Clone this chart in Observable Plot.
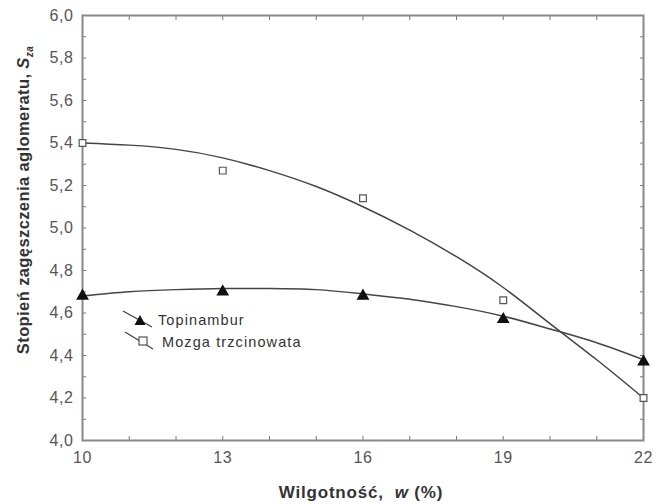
<!DOCTYPE html>
<html>
<head>
<meta charset="utf-8">
<script src="https://cdn.jsdelivr.net/npm/d3@7"></script>
<script src="https://cdn.jsdelivr.net/npm/@observablehq/plot@0.6"></script>
<style>
  html, body { margin: 0; padding: 0; background: #fff; }
  #wrap { position: relative; width: 668px; height: 504px; }
</style>
</head>
<body>
<div id="wrap"></div>
<script>
// Measured points
const wilgotnosc = [10, 13, 16, 19, 22];
const topinambur = [4.68, 4.70, 4.68, 4.57, 4.37];
const mozga = [5.40, 5.27, 5.14, 4.66, 4.20];

// Fitted curves at integer x
const curveX = [10, 11, 12, 13, 14, 15, 16, 17, 18, 19, 20, 21, 22];
const curveTopinambur = [4.68, 4.70, 4.71, 4.715, 4.715, 4.71, 4.69, 4.665, 4.63, 4.585, 4.525, 4.46, 4.38];
const curveMozga = [5.40, 5.39, 5.37, 5.33, 5.27, 5.195, 5.10, 4.99, 4.865, 4.72, 4.55, 4.38, 4.20];

const seriesNames = ["Topinambur", "Mozga trzcinowata"];
const xTickLabels = [10, 13, 16, 19, 22];
const yTickLabels = [4.0, 4.2, 4.4, 4.6, 4.8, 5.0, 5.2, 5.4, 5.6, 5.8, 6.0];
const xMinor = [10, 11, 12, 13, 14, 15, 16, 17, 18, 19, 20, 21, 22];
const yMinor = [4.0, 4.1, 4.2, 4.3, 4.4, 4.5, 4.6, 4.7, 4.8, 4.9, 5.0, 5.1, 5.2, 5.3, 5.4, 5.5, 5.6, 5.7, 5.8, 5.9, 6.0];

const ptsT = wilgotnosc.map((x, i) => ({x, y: topinambur[i]}));
const ptsM = wilgotnosc.map((x, i) => ({x, y: mozga[i]}));
const lineT = curveX.map((x, i) => ({x, y: curveTopinambur[i]}));
const lineM = curveX.map((x, i) => ({x, y: curveMozga[i]}));

const fmt = d => d3.format(".1f")(d).replace(".", ",");
const FONT = "Liberation Sans, Arial, sans-serif";

const chart = Plot.plot({
  width: 668,
  height: 504,
  marginLeft: 82,
  marginRight: 25,
  marginTop: 15,
  marginBottom: 64,
  style: {fontFamily: FONT, fontSize: "16px", color: "#555", background: "#fff", letterSpacing: "0.6px"},
  x: {domain: [10, 22]},
  y: {domain: [4, 6]},
  marks: [
    // minor inward ticks
    Plot.axisX({ticks: xMinor, tickSize: -4, text: null, stroke: "#777", label: null, anchor: "bottom"}),
    Plot.axisX({ticks: xMinor, tickSize: -4, text: null, stroke: "#777", label: null, anchor: "top"}),
    Plot.axisY({ticks: yMinor, tickSize: -4, text: null, stroke: "#777", label: null, anchor: "left"}),
    Plot.axisY({ticks: yMinor, tickSize: -4, text: null, stroke: "#777", label: null, anchor: "right"}),
    // labels
    Plot.axisX({ticks: xTickLabels, tickSize: 0, tickPadding: 11, tickFormat: d => String(d), label: null, fill: "#555"}),
    Plot.axisY({ticks: yTickLabels, tickSize: 0, tickPadding: 9, tickFormat: fmt, label: null, fill: "#555"}),
    Plot.frame({stroke: "#888", strokeWidth: 2}),
    Plot.line(lineM, {x: "x", y: "y", curve: "natural", stroke: "#444", strokeWidth: 1.5}),
    Plot.line(lineT, {x: "x", y: "y", curve: "natural", stroke: "#444", strokeWidth: 1.5}),
    Plot.dot(ptsM, {x: "x", y: "y", symbol: "square", r: 3.8, fill: "#fff", stroke: "#555", strokeWidth: 1.2}),
    Plot.dot(ptsT, {x: "x", y: "y", symbol: "triangle", r: 3.8, fill: "#111", stroke: "#111"})
  ]
});

const wrap = document.getElementById("wrap");
wrap.appendChild(chart);

const svg = d3.select(chart);
// x axis title
svg.append("text")
  .attr("x", 361).attr("y", 498)
  .attr("text-anchor", "middle")
  .attr("font-weight", "bold").attr("font-size", 17).attr("fill", "#333")
  .attr("font-family", FONT).attr("letter-spacing", "0.8px")
  .call(t => {
    t.append("tspan").text("Wilgotność,  ");
    t.append("tspan").attr("font-style", "italic").text("w");
    t.append("tspan").text(" (%)");
  });
// y axis title
svg.append("text")
  .attr("transform", "translate(29,200) rotate(-90)")
  .attr("text-anchor", "middle")
  .attr("font-weight", "bold").attr("font-size", 16.5).attr("fill", "#333")
  .attr("font-family", FONT).attr("letter-spacing", "0.4px")
  .call(t => {
    t.append("tspan").text("Stopień zagęszczenia aglomeratu, ");
    t.append("tspan").attr("font-style", "italic").text("S");
    t.append("tspan").attr("font-style", "italic").attr("font-size", 10).attr("dy", 4).text("za");
  });

// legend
const lg = svg.append("g").attr("font-family", FONT).attr("font-size", 14.5).attr("fill", "#333")
  .attr("letter-spacing", "1.1px").attr("text-anchor", "start");
lg.append("line").attr("x1", 123).attr("y1", 311).attr("x2", 152).attr("y2", 327).attr("stroke", "#444").attr("stroke-width", 1.3);
lg.append("path").attr("d", "M134.5,325 L140,315 L145.5,325 Z").attr("fill", "#111");
lg.append("text").attr("x", 158).attr("y", 325).attr("text-anchor", "start").text(seriesNames[0]);
lg.append("line").attr("x1", 125).attr("y1", 332).attr("x2", 153).attr("y2", 349).attr("stroke", "#444").attr("stroke-width", 1.3);
lg.append("rect").attr("x", 139).attr("y", 337).attr("width", 8).attr("height", 8).attr("fill", "#fff").attr("stroke", "#555").attr("stroke-width", 1.2);
lg.append("text").attr("x", 162).attr("y", 347).attr("text-anchor", "start").text(seriesNames[1]);
</script>
</body>
</html>
